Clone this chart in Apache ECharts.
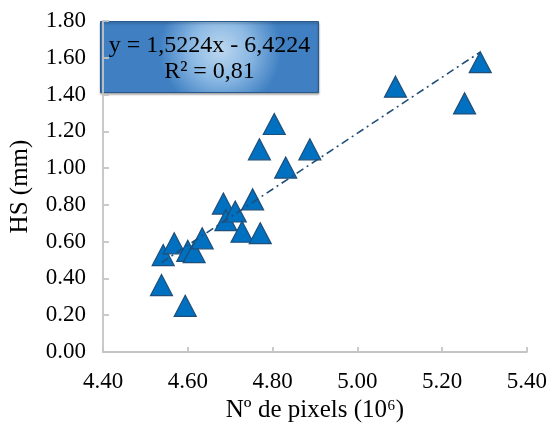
<!DOCTYPE html>
<html>
<head>
<meta charset="utf-8">
<script src="https://cdn.jsdelivr.net/npm/echarts@6/dist/echarts.min.js"></script>
<style>
  html, body { margin: 0; padding: 0; background: #fff; }
  #chart { width: 550px; height: 432px; }
</style>
</head>
<body>
<div id="chart"></div>
<script>
// Number of pixels (millions) and HS (mm) for each sample
const pixels = [4.538, 4.542, 4.568, 4.594, 4.600, 4.615, 4.634, 4.684, 4.690, 4.712,
                4.728, 4.753, 4.769, 4.771, 4.804, 4.831, 4.888, 5.090, 5.253, 5.290];
const hs     = [0.364, 0.527, 0.591, 0.251, 0.550, 0.543, 0.618, 0.807, 0.717, 0.764,
                0.654, 0.830, 1.102, 0.646, 1.240, 1.003, 1.102, 1.443, 1.352, 1.576];

// Linear trend: y = 1,5224x - 6,4224 ; R² = 0,81
const slope = 1.5224;
const intercept = -6.4224;
const r2Text = '0,81';

const xTicks = [4.40, 4.60, 4.80, 5.00, 5.20, 5.40];
const yTicks = [0.00, 0.20, 0.40, 0.60, 0.80, 1.00, 1.20, 1.40, 1.60, 1.80];

const points = pixels.map((x, i) => [x, hs[i]]);
const xMin = Math.min(...pixels), xMax = Math.max(...pixels);
const trend = [xMin, xMax].map(x => [x, slope * x + intercept]);

const fmtComma = v => v.toFixed(4).replace('.', ',');
const eqText = 'y = ' + fmtComma(slope) + 'x - ' + fmtComma(-intercept) + '\nR² = ' + r2Text;

const serif = '"Liberation Serif", "Times New Roman", serif';
const axisGray = '#c4c4c4';

const chart = echarts.init(document.getElementById('chart'), null, { renderer: 'canvas' });
chart.setOption({
  animation: false,
  backgroundColor: '#ffffff',
  grid: { left: 102, right: 22, top: 21, bottom: 80, containLabel: false },
  xAxis: {
    type: 'value',
    min: xTicks[0], max: xTicks[xTicks.length - 1], interval: 0.2,
    name: 'Nº de pixels (10⁶)',
    nameLocation: 'middle', nameGap: 46,
    nameTextStyle: { fontFamily: serif, fontSize: 25, color: '#000' },
    axisLine: { show: true, lineStyle: { color: axisGray, width: 1.8 } },
    axisTick: { show: true, inside: true, length: 5, lineStyle: { color: axisGray, width: 1.8 } },
    axisLabel: { fontFamily: serif, fontSize: 23, color: '#000', margin: 18,
                 formatter: v => v.toFixed(2) },
    splitLine: { show: false }
  },
  yAxis: {
    type: 'value',
    min: yTicks[0], max: yTicks[yTicks.length - 1], interval: 0.2,
    name: 'HS (mm)',
    nameLocation: 'middle', nameGap: 70,
    nameTextStyle: { fontFamily: serif, fontSize: 25, color: '#000' },
    axisLine: { show: true, lineStyle: { color: axisGray, width: 1.8 } },
    axisTick: { show: true, inside: true, length: 6, lineStyle: { color: axisGray, width: 1.8 } },
    axisLabel: { fontFamily: serif, fontSize: 23, color: '#000', margin: 17,
                 formatter: v => v.toFixed(2) },
    splitLine: { show: false }
  },
  series: [
    {
      name: 'HS',
      type: 'scatter',
      data: points,
      symbol: 'triangle',
      symbolSize: [22, 21],
      itemStyle: { color: '#0070c0', borderColor: '#1f4e79', borderWidth: 1.2, opacity: 1 },
      z: 2
    },
    {
      name: 'Tendência',
      type: 'line',
      data: trend,
      showSymbol: false,
      symbol: 'none',
      lineStyle: { color: '#1f4e79', width: 1.6, type: [8, 4, 2, 4] },
      z: 3
    }
  ],
  graphic: [
    {
      type: 'group',
      left: 100, top: 21,
      children: [
        {
          type: 'rect',
          shape: { x: 0, y: 0, width: 218, height: 71 },
          style: {
            fill: new echarts.graphic.RadialGradient(0.55, 0.4, 0.85, [
              { offset: 0, color: '#bcd7ef' },
              { offset: 0.5, color: '#8ab8e3' },
              { offset: 1, color: '#3f7fc2' }
            ]),
            stroke: '#2a5a8c', lineWidth: 1,
            shadowColor: 'rgba(0,0,0,0.35)', shadowBlur: 2, shadowOffsetY: 1.5
          }
        },
        {
          type: 'text',
          style: {
            x: 109, y: 37,
            text: eqText,
            align: 'center', verticalAlign: 'middle',
            fontFamily: serif, fontSize: 24, lineHeight: 26, fill: '#000'
          }
        }
      ]
    }
  ]
});
</script>
</body>
</html>
